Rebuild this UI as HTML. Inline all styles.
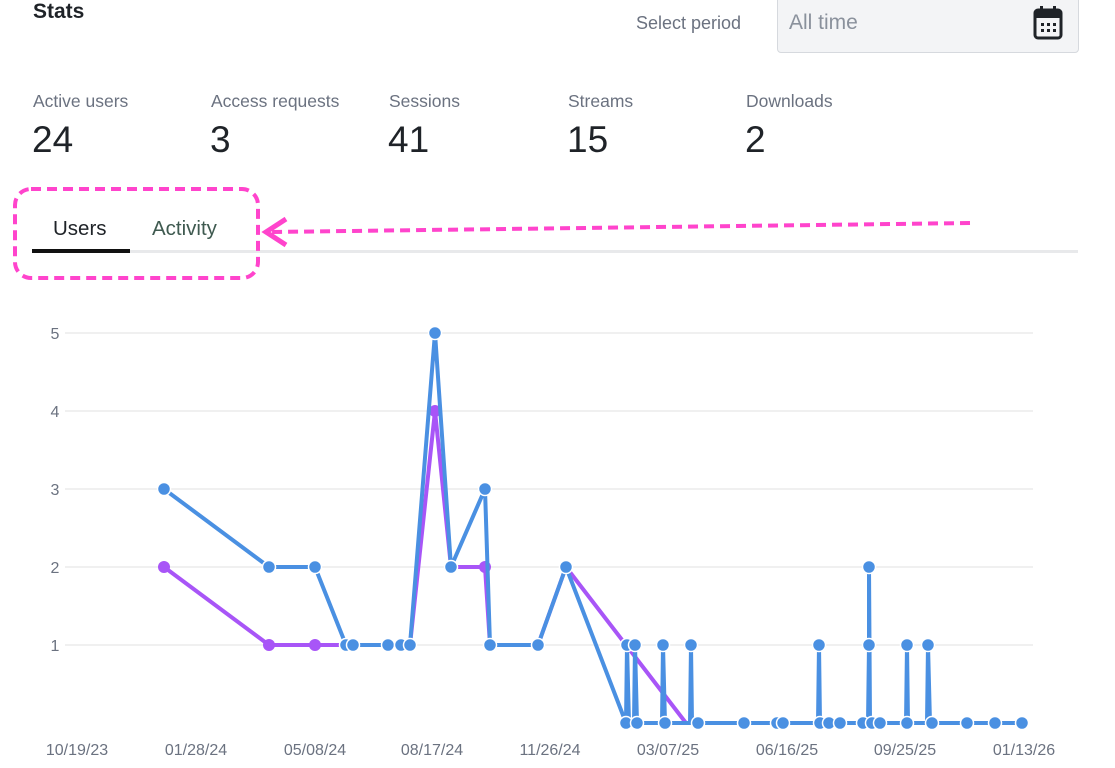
<!DOCTYPE html><html><head><style>
body{margin:0;width:1115px;height:768px;background:#fff;font-family:"Liberation Sans",sans-serif;overflow:hidden;position:relative}
.a{position:absolute}
.lbl{font-size:17.5px;color:#6b7280}
.num{font-size:37px;color:#1f2328}
</style></head><body>
<div class="a" style="left:33px;top:0px;font-size:21px;font-weight:bold;color:#1f2328">Stats</div>
<div class="a" style="left:636px;top:13px;font-size:18px;color:#6b7280">Select period</div>
<div class="a" style="left:777px;top:-4px;width:300px;height:55px;background:#f3f4f6;border:1px solid #d6d9de;border-radius:4px"></div>
<div class="a" style="left:789px;top:11px;font-size:21px;color:#8a919c">All time</div>
<svg class="a" style="left:1033px;top:4px" width="30" height="36" viewBox="0 0 30 36"><rect x="2" y="6" width="26" height="28" rx="3" fill="none" stroke="#1f2328" stroke-width="3"/><rect x="2" y="6" width="26" height="8" fill="#1f2328"/><rect x="7" y="2" width="3" height="7" fill="#1f2328"/><rect x="20" y="2" width="3" height="7" fill="#1f2328"/><g fill="#1f2328"><rect x="8" y="19" width="3" height="3"/><rect x="14" y="19" width="3" height="3"/><rect x="20" y="19" width="3" height="3"/><rect x="8" y="25" width="3" height="3"/><rect x="14" y="25" width="3" height="3"/><rect x="20" y="25" width="3" height="3"/></g></svg>
<div class="a lbl" style="left:33px;top:91px">Active users</div><div class="a num" style="left:32px;top:119px">24</div>
<div class="a lbl" style="left:211px;top:91px">Access requests</div><div class="a num" style="left:210px;top:119px">3</div>
<div class="a lbl" style="left:389px;top:91px">Sessions</div><div class="a num" style="left:388px;top:119px">41</div>
<div class="a lbl" style="left:568px;top:91px">Streams</div><div class="a num" style="left:567px;top:119px">15</div>
<div class="a lbl" style="left:746px;top:91px">Downloads</div><div class="a num" style="left:745px;top:119px">2</div>
<div class="a" style="left:53px;top:217px;font-size:20.5px;color:#1f2328">Users</div>
<div class="a" style="left:152px;top:217px;font-size:20.5px;color:#3f5a50">Activity</div>
<div class="a" style="left:32px;top:250px;width:1046px;height:3px;background:#e8e9eb"></div>
<div class="a" style="left:32px;top:249px;width:98px;height:4px;background:#111"></div>
<svg class="a" style="left:0;top:0" width="1115" height="768">
<rect x="15" y="189" width="243" height="89" rx="16" fill="none" stroke="#ff44cc" stroke-width="4" stroke-dasharray="10,6"/>
<line x1="970" y1="223" x2="272" y2="232" stroke="#ff44cc" stroke-width="4" stroke-dasharray="10,6"/>
<polyline points="286,219 266,232 286,245" fill="none" stroke="#ff44cc" stroke-width="5"/>
<g stroke="#f0f0f0" stroke-width="2"><line x1="65" y1="333" x2="1033" y2="333"/><line x1="65" y1="411" x2="1033" y2="411"/><line x1="65" y1="489" x2="1033" y2="489"/><line x1="65" y1="567" x2="1033" y2="567"/><line x1="65" y1="645" x2="1033" y2="645"/></g>
<g font-size="16" fill="#6b7280" text-anchor="middle"><text x="55" y="339">5</text><text x="55" y="417">4</text><text x="55" y="495">3</text><text x="55" y="573">2</text><text x="55" y="651">1</text>
<text x="77" y="755">10/19/23</text><text x="196" y="755">01/28/24</text><text x="315" y="755">05/08/24</text><text x="432" y="755">08/17/24</text><text x="550" y="755">11/26/24</text><text x="668" y="755">03/07/25</text><text x="787" y="755">06/16/25</text><text x="905" y="755">09/25/25</text><text x="1024" y="755">01/13/26</text></g>
<polyline fill="none" stroke="#a855f7" stroke-width="4" stroke-linejoin="round" points="164,567 269,645 315,645 410,645 435,411 451,567 485,567 490,645 538,645 566,567 686,723"/>
<g fill="#a855f7"><circle cx="164" cy="567" r="6"/><circle cx="269" cy="645" r="6"/><circle cx="315" cy="645" r="6"/><circle cx="435" cy="411" r="6"/><circle cx="485" cy="567" r="6"/></g>
<polyline fill="none" stroke="#4a90e2" stroke-width="4" stroke-linejoin="round" points="164,489 269,567 315,567 346,645 353,645 388,645 401,645 410,645 435,333 451,567 485,489 490,645 538,645 566,567 626,723 627,645 629,723 634,723 635,645 637,723 662,723 663,645 665,723 690,723 691,645 692,723 698,723 744,723 777,723 782,723 818,723 819,645 820,723 829,723 840,723 863,723 868,723 869,645 869,567 870,723 880,723 906,723 907,645 908,723 920,723 927,723 928,645 930,723 932,723 967,723 995,723 1022,723"/>
<g fill="#4a90e2" stroke="#fff" stroke-width="1.5">
<circle cx="164" cy="489" r="6.5"/><circle cx="269" cy="567" r="6.5"/><circle cx="315" cy="567" r="6.5"/><circle cx="346" cy="645" r="6.5"/><circle cx="353" cy="645" r="6.5"/><circle cx="388" cy="645" r="6.5"/><circle cx="401" cy="645" r="6.5"/><circle cx="410" cy="645" r="6.5"/><circle cx="435" cy="333" r="6.5"/><circle cx="451" cy="567" r="6.5"/><circle cx="485" cy="489" r="6.5"/><circle cx="490" cy="645" r="6.5"/><circle cx="538" cy="645" r="6.5"/><circle cx="566" cy="567" r="6.5"/>
<circle cx="626" cy="723" r="6.5"/><circle cx="627" cy="645" r="6.5"/><circle cx="635" cy="645" r="6.5"/><circle cx="637" cy="723" r="6.5"/><circle cx="663" cy="645" r="6.5"/><circle cx="665" cy="723" r="6.5"/><circle cx="691" cy="645" r="6.5"/><circle cx="698" cy="723" r="6.5"/><circle cx="744" cy="723" r="6.5"/><circle cx="777" cy="723" r="6.5"/><circle cx="783" cy="723" r="6.5"/><circle cx="819" cy="645" r="6.5"/><circle cx="820" cy="723" r="6.5"/><circle cx="829" cy="723" r="6.5"/><circle cx="840" cy="723" r="6.5"/><circle cx="863" cy="723" r="6.5"/><circle cx="869" cy="645" r="6.5"/><circle cx="869" cy="567" r="6.5"/><circle cx="872" cy="723" r="6.5"/><circle cx="880" cy="723" r="6.5"/><circle cx="907" cy="645" r="6.5"/><circle cx="907" cy="723" r="6.5"/><circle cx="928" cy="645" r="6.5"/><circle cx="932" cy="723" r="6.5"/><circle cx="967" cy="723" r="6.5"/><circle cx="995" cy="723" r="6.5"/><circle cx="1022" cy="723" r="6.5"/></g>
</svg>
</body></html>
